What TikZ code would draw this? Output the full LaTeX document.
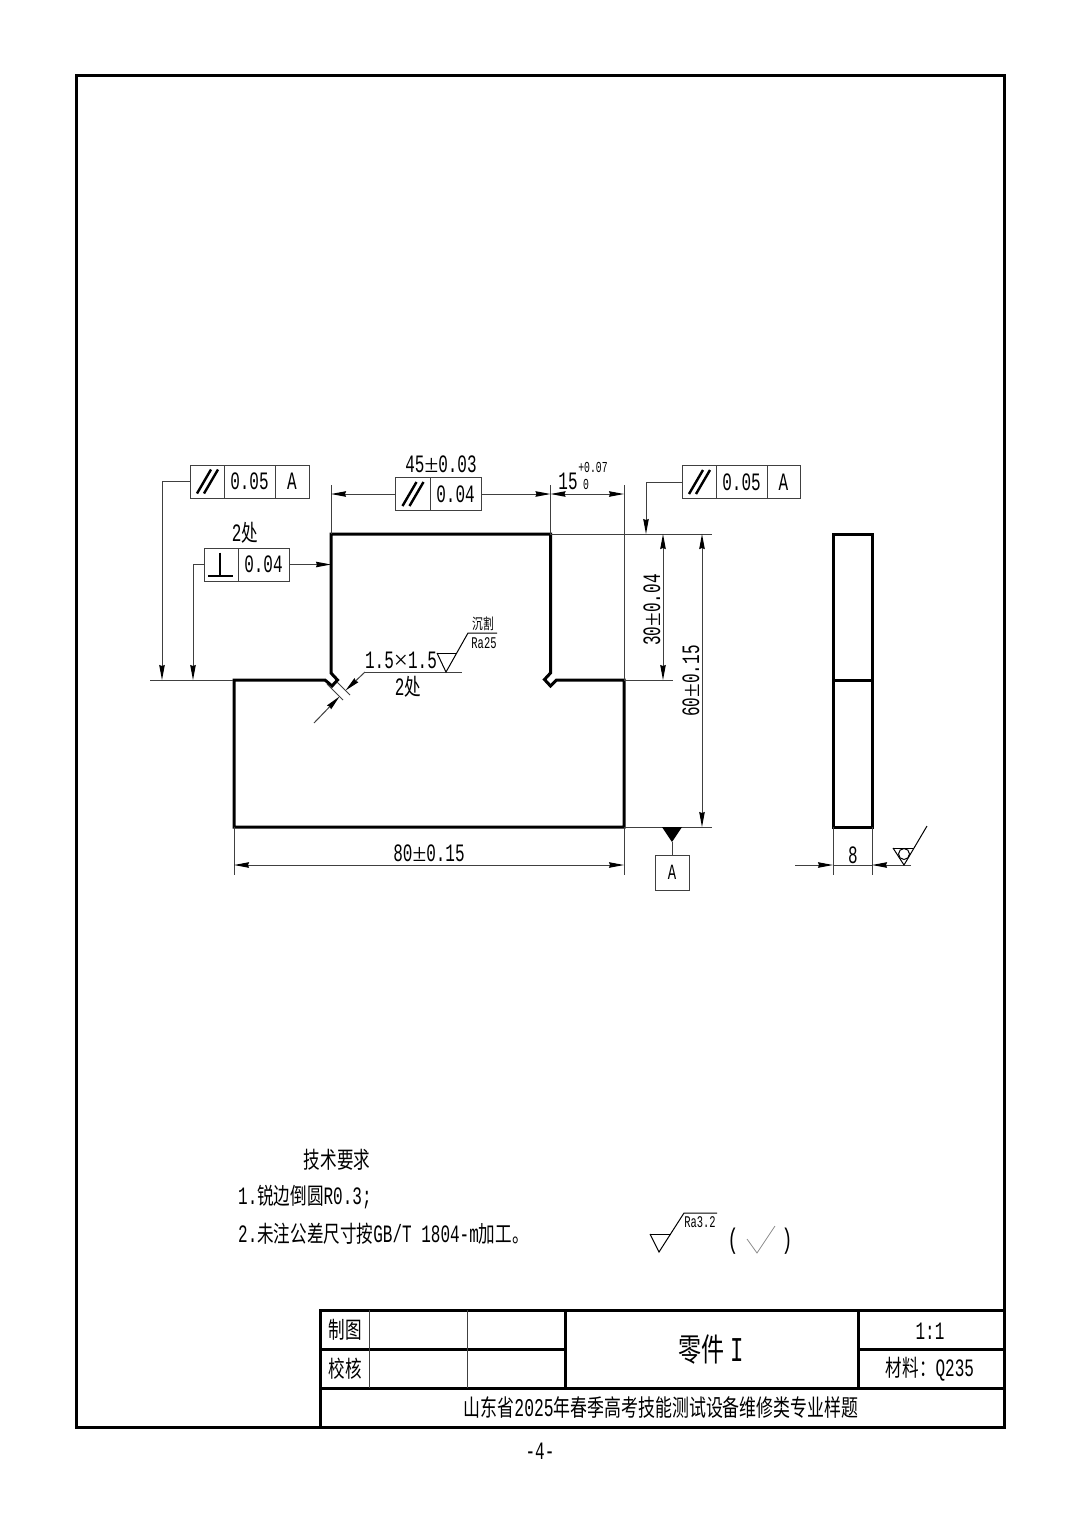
\documentclass[tikz,border=0pt]{standalone}
\usepackage{fontspec}
\setmainfont[FakeStretch=0.64,Scale=1.087]{Liberation Mono}
\newfontfamily\cjk[FakeStretch=0.72]{Noto Sans CJK SC}
\newfontfamily\wideserif[Scale=1.087]{Liberation Serif}
\newcommand{\plusminus}{{\wideserif ±}}
\newcommand{\timessign}{{\wideserif ×}}
\usetikzlibrary{arrows.meta,positioning,calc}
\definecolor{thinGray}{gray}{0.25}
\tikzstyle{outline} = [line width=3pt,line join=miter,color=black]
\tikzstyle{thinline} = [line width=1pt,color=thinGray]
\tikzstyle{dimline} = [thinline,{Stealth[length=15pt,width=5.5pt,inset=1pt,color=black]}-{Stealth[length=15pt,width=5.5pt,inset=1pt,color=black]}]
\tikzstyle{leader} = [thinline,-{Stealth[length=15pt,width=5.5pt,inset=1pt,color=black]}]
\tikzstyle{fcell} = [draw=thinGray,line width=1pt,minimum height=33pt,inner sep=0pt,outer sep=0pt,font=\fontsize{23}{23}\selectfont]
\tikzstyle{label} = [inner sep=0pt,font=\fontsize{23}{23}\selectfont]
\tikzstyle{small} = [inner sep=0pt,font=\fontsize{15}{15}\selectfont]
\tikzstyle{tiny} = [inner sep=0pt,font=\fontsize{14}{14}\selectfont]
\tikzstyle{title} = [inner sep=0pt,font=\fontsize{23}{23}\selectfont]
\tikzstyle{symbol} = [line width=1pt,color=black]
\begin{document}
\begin{tikzpicture}[x=1pt,y=-1pt]
	\useasboundingbox (0,0) rectangle (1080,1527);
	\fill[white] (0,0) rectangle (1080,1527);

	% frame and title block
	\draw[outline] (76,75) rectangle (1004,1427);
	\draw[outline] (320,1427) -- (320,1310) -- (1004,1310);
	\draw[outline] (320,1388) -- (1004,1388);
	\draw[outline] (320,1349) -- (565,1349);
	\draw[outline] (858,1349) -- (1004,1349);
	\draw[outline] (565,1310) -- (565,1388);
	\draw[outline] (858,1310) -- (858,1388);
	\draw[thinline] (369,1310) -- (369,1388);
	\draw[thinline] (467,1310) -- (467,1388);
	\node[title] (drawn) at (345,1330) {\cjk 制图};
	\node[title] (checked) at (345,1369) {\cjk 校核};
	\node[title,font=\fontsize{32}{32}\selectfont] (partname) at (711,1350) {\cjk 零件\,\rmfamily I};
	\node[title] (scale) at (930,1331) {1:1};
	\node[title] (material) at (930,1369) {{\cjk 材料^^^^ff1a}Q235};
	\node[title,font=\fontsize{23.5}{23.5}\selectfont] (exam) at (661,1408) {\cjk 山东省{\rmfamily 2025}年春季高考技能测试设备维修类专业样题};
	\node[title] (page) at (540,1451) {-4-};

	% part, front view
	\draw[outline] (331,534) -- (550.5,534) -- (550.5,673) -- (544.5,679.5) -- (550.5,686) -- (556.5,680) -- (624,680) -- (624,827) -- (234,827) -- (234,680) -- (325,680) -- (332,686) -- (337.5,680) -- (331,673) -- cycle;
	% part, side view
	\draw[outline] (833,534) rectangle (872,827);
	\draw[outline] (833,680) -- (872,680);

	% extension lines
	\draw[thinline] (331,534) -- (331,485);
	\draw[thinline] (550.5,534) -- (550.5,485);
	\draw[thinline] (624,680) -- (624,485);
	\draw[thinline] (624,827) -- (624,875);
	\draw[thinline] (234,827) -- (234,875);
	\draw[thinline] (833,827) -- (833,875);
	\draw[thinline] (872,827) -- (872,875);
	\draw[thinline] (150,680) -- (233,680);
	\draw[thinline] (550,534) -- (712,534);
	\draw[thinline] (624,680) -- (673,680);
	\draw[thinline] (624,827) -- (712,827);

	% feature control frames
	\node[fcell,minimum width=34pt] (par1) at (207,481.5) {};
	\node[fcell,minimum width=51pt,right=0pt of par1] (tol1) {0.05};
	\node[fcell,minimum width=34pt,right=0pt of tol1] (ref1) {A};
	\node[fcell,minimum width=35pt] (par2) at (412.5,494) {};
	\node[fcell,minimum width=51pt,right=0pt of par2] (tol2) {0.04};
	\node[fcell,minimum width=34pt] (par3) at (699,482) {};
	\node[fcell,minimum width=51pt,right=0pt of par3] (tol3) {0.05};
	\node[fcell,minimum width=33pt,right=0pt of tol3] (ref3) {A};
	\node[fcell,minimum width=34pt] (perp) at (221,564.5) {};
	\node[fcell,minimum width=51pt,right=0pt of perp] (tol4) {0.04};

	% parallel and perpendicular symbols
	\foreach \f in {par1,par2,par3} {
		\draw[line width=2.4pt] ($(\f)+(-10,12)$) -- ($(\f)+(4,-12)$);
		\draw[line width=2.4pt] ($(\f)+(-3,12)$) -- ($(\f)+(11,-12)$);
	}
	\draw[line width=2pt] ($(perp)+(-13,11.5)$) -- ($(perp)+(12,11.5)$);
	\draw[line width=1.6pt] ($(perp)+(-1,-12)$) -- ($(perp)+(-1,11.5)$);

	% leaders
	\coordinate (base1) at (162,680);
	\coordinate (base2) at (193,680);
	\coordinate (base3) at (646,534);
	\coordinate (side) at (331,564.5);
	\draw[leader] (par1.west) -| (base1);
	\draw[leader] (perp.west) -| (base2);
	\draw[leader] (par3.west) -| (base3);
	\draw[leader] (tol4.east) -- (side);

	% dimensions
	\coordinate (d45a) at (331,494);
	\coordinate (d45b) at (550.5,494);
	\coordinate (d15b) at (624,494);
	\coordinate (d15o) at (532,494);
	\draw[leader] (par2.west) -- (d45a);
	\draw[thinline] (tol2.east) -- (d15o);
	\draw[leader] (d15o) -- (d45b);
	\draw[dimline] (d45b) -- (d15b);
	\node[label] (t45) at (441,464) {45\plusminus 0.03};
	\node[label] (t15) at (568,481.5) {15};
	\node[tiny] (t15u) at (593,467.5) {+0.07};
	\node[tiny] (t15l) at (586,484) {0};
	\draw[dimline] (663,534) -- (663,680);
	\node[label,rotate=90] (t30) at (652,610) {30\plusminus 0.04};
	\draw[dimline] (702,534) -- (702,827);
	\node[label,rotate=90] (t60) at (691,681) {60\plusminus 0.15};
	\draw[dimline] (234,865) -- (624,865);
	\node[label] (t80) at (429,853) {80\plusminus 0.15};

	% width 8 and weld symbol
	\coordinate (w8a) at (795,865);
	\coordinate (w8b) at (833,865);
	\coordinate (w8c) at (872,865);
	\coordinate (w8d) at (911,865);
	\draw[leader] (w8a) -- (w8b);
	\draw[leader] (w8d) -- (w8c);
	\draw[thinline] (w8b) -- (w8c);
	\node[label] (t8) at (853,855) {8};
	\draw[symbol] (893,848) -- (904,865) -- (927,826);
	\draw[symbol] (893,848) -- (914,848);
	\draw[symbol] (904,854) circle (5.5pt);

	% datum A
	\fill (662,827) -- (682,827) -- (672,842) -- cycle;
	\node[fcell,minimum width=34pt,minimum height=35pt,font=\fontsize{20}{20}\selectfont] (datum) at (672,872.5) {A};
	\coordinate (datumtip) at (672,842);
	\draw[thinline] (datum) -- (datumtip);

	% chamfer
	\coordinate (chA) at (314,723);
	\coordinate (chB) at (339.5,696.5);
	\coordinate (chC) at (345.5,690.5);
	\coordinate (chD) at (365,672);
	\coordinate (chE) at (462,672);
	\draw[thinline] (337,682) -- (350,695);
	\draw[thinline] (327,684) -- (343,700);
	\draw[leader] (chA) -- (chB);
	\draw[leader] (chD) -- (chC);
	\draw[thinline] (chD) -- (chE);
	\node[label] (tcham) at (401,660) {1.5\timessign 1.5};
	\node[label] (tcham2) at (408,687) {2{\cjk 处}};
	\draw[symbol] (437,653) -- (446,672) -- (468,633) -- (497,633);
	\draw[symbol] (437,653) -- (457,653);
	\node[small] (tcut) at (483,624) {\cjk 沉割};
	\node[small] (tra) at (484,643) {Ra25};
	\node[label] (t2p) at (245,533) {2{\cjk 处}};

	% technical requirements
	\node[title] (req) at (337,1160) {\cjk 技术要求};
	\node[title,anchor=west] (req1) at (238,1197) {1.{\cjk 锐边倒圆}R0.3;};
	\node[title,anchor=west] (req2) at (238,1234) {2.{\cjk 未注公差尺寸按}GB/T 1804-m{\cjk 加工。}};

	% surface finish
	\draw[symbol] (650,1234) -- (659,1252) -- (684,1213) -- (717,1213);
	\draw[symbol] (650,1234) -- (671,1234);
	\node[small] (tra2) at (700,1222) {Ra3.2};
	\node[label,font=\fontsize{26}{26}\selectfont] (lpar) at (733,1241) {(};
	\node[label,font=\fontsize{26}{26}\selectfont] (rpar) at (787,1241) {)};
	\draw[line width=.8pt,color=black!45] (747,1239) -- (757,1253) -- (775,1226);
\end{tikzpicture}
\end{document}
